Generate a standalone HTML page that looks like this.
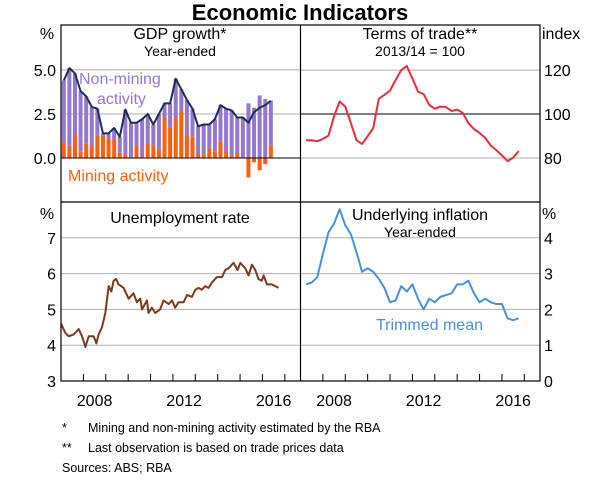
<!DOCTYPE html>
<html><head><meta charset="utf-8"><style>
body{margin:0;background:#fff;}
svg{display:block;font-family:"Liberation Sans",Arial,sans-serif;}
</style></head><body>
<svg id="c" width="600" height="482" viewBox="0 0 600 482">
<text x="300" y="20" text-anchor="middle" font-size="22" font-weight="bold">Economic Indicators</text>
<g id="g"></g>
<text x="62" y="432" font-size="12.5">*</text>
<text x="88" y="432" font-size="12.5">Mining and non-mining activity estimated by the RBA</text>
<text x="62" y="452" font-size="12.5">**</text>
<text x="88" y="452" font-size="12.5">Last observation is based on trade prices data</text>
<text x="62" y="472" font-size="12.5">Sources:   ABS; RBA</text>
</svg>
<script>
// GDP (quarterly, from 2007Q1)
const gdpTotal=[4.4,5.1,4.8,3.8,3.5,2.9,2.8,1.4,1.4,1.7,1.2,2.75,2.0,2.0,2.2,2.5,1.9,2.5,3.1,3.1,4.5,3.9,3.3,2.8,1.8,1.9,1.9,2.2,3.0,2.8,2.7,2.3,2.3,2.0,2.6,2.85,3.0,3.25];
const gdpMining=[0.9,0.7,1.3,0.35,0.8,0.65,1.25,1.3,1.1,1.05,0.3,0.2,0.05,0.7,0.05,0.85,0.7,0.45,2.3,1.75,2.3,2.7,1.25,1.2,0.25,0.2,0.6,0.35,0.95,0.4,0.15,0.25,0.05,-1.1,-0.25,-0.7,-0.35,0.7];
// Terms of trade (quarterly, from 2007.25)
const tot=[88.1,88.1,87.6,88.7,90.2,99,105.7,103.4,95.9,88.1,86.4,89.9,93.7,107,108.7,110.7,115.5,120,121.8,116.2,110.2,109.1,104.2,102.4,103.4,103.2,101.4,102,100.5,95.9,93.2,91.4,89.2,85.7,83.6,81.2,78.6,80.2,83.2];
// Trimmed mean inflation (quarterly, from 2007.25)
const infl=[2.7,2.75,2.9,3.55,4.15,4.4,4.8,4.35,4.1,3.6,3.05,3.15,3.05,2.85,2.6,2.2,2.25,2.65,2.5,2.7,2.3,2.0,2.3,2.2,2.35,2.4,2.45,2.7,2.7,2.8,2.45,2.2,2.3,2.2,2.15,2.15,1.75,1.7,1.75];
// Unemployment rate
const unDates=[2007,2007.19,2007.34,2007.57,2007.79,2007.94,2008.09,2008.24,2008.46,2008.58,2008.68,2008.83,2008.98,2009.13,2009.25,2009.35,2009.46,2009.57,2009.8,2010.02,2010.24,2010.39,2010.54,2010.62,2010.84,2010.91,2011.06,2011.21,2011.43,2011.58,2011.81,2011.96,2012.1,2012.25,2012.48,2012.63,2012.85,2013,2013.15,2013.29,2013.44,2013.59,2013.74,2013.96,2014.19,2014.34,2014.49,2014.71,2014.89,2015.01,2015.23,2015.38,2015.53,2015.68,2015.82,2015.97,2016.05,2016.2,2016.42,2016.57,2016.72];
const unRate=[4.6,4.35,4.25,4.3,4.45,4.25,3.95,4.25,4.25,4.05,4.3,4.5,4.9,5.65,5.5,5.8,5.85,5.7,5.6,5.3,5.45,5.2,5.3,5.0,5.25,4.9,5.05,4.9,5.0,5.25,5.15,5.25,5.05,5.2,5.2,5.4,5.35,5.55,5.6,5.55,5.65,5.6,5.75,5.9,5.9,6.1,6.15,6.3,6.1,6.3,6.15,5.95,6.25,6.1,5.85,5.8,5.95,5.7,5.7,5.65,5.6];
const xTickYears=[2007,2008,2009,2010,2011,2012,2013,2014,2015,2016,2017];
const xLabels=["2008","2012","2016"];
const gdpTicks=["5.0","2.5","0.0"];
const totTicks=["120","100","80"];
const unTicks=["7","6","5","4","3"];
const infTicks=["4","3","2","1","0"];

const NS="http://www.w3.org/2000/svg",G=document.getElementById('g');
function el(t,a,txt){const e=document.createElementNS(NS,t);for(const k in a)e.setAttribute(k,a[k]);if(txt!==undefined)e.textContent=txt;G.appendChild(e);return e;}
const L=61,M=300.5,R=540,T=25,H=202,B=381;
const xl=t=>L+(t-2007)*(M-L)/10.7, xr=t=>M+(t-2007)*(R-M)/10.7;
const yGdp=v=>T+(7.55-v)*(H-T)/10.05, yTot=v=>T+(140.5-v)*(H-T)/80.5;
const yUn=v=>H+(8-v)*(B-H)/5, yInf=v=>H+(5-v)*(B-H)/5;
function hline(x1,x2,y,c,n){const e=el('line',{x1,x2,y1:y,y2:y,stroke:c,'stroke-width':1});}
// grids
[5,2.5].forEach(v=>hline(L,M,yGdp(v),'#b0b0b0','gdp-gridline'));
[120,80].forEach(v=>hline(M,R,yTot(v),'#b0b0b0','tot-gridline'));
[7,6,5,4].forEach(v=>{hline(L,M,yUn(v),'#b0b0b0','unemployment-gridline');hline(M,R,yUn(v),'#b0b0b0','inflation-gridline');});
// GDP bars
const bw=4;
gdpTotal.forEach((tv,i)=>{const t=2007.125+i*0.25,x=xl(t),m=gdpMining[i],nm=tv-m;
 let p0=m>0?m:0,p1=m>0?tv:nm;
 const b=el('rect',{x:x-bw/2,width:bw,y:yGdp(Math.max(p0,p1)),height:Math.abs(yGdp(p0)-yGdp(p1)),fill:'#9478d0'});
 
 const o=el('rect',{x:x-bw/2,width:bw,y:yGdp(Math.max(m,0)),height:Math.abs(yGdp(m)-yGdp(0)),fill:'#ff5f0f'});
 });
hline(L,M,yGdp(0),'#000','gdp-zero-line');
hline(M,R,yTot(100),'#000','tot-100-line');
function line(xs,ys,c,n){const e=el('polyline',{points:xs.map((x,i)=>x+','+ys[i]).join(' '),fill:'none',stroke:c,'stroke-width':2,'stroke-linejoin':'round'});}
line(gdpTotal.map((v,i)=>xl(2007.125+i*0.25)),gdpTotal.map(yGdp),'#1b2f55','gdp-total-line');
line(tot.map((v,i)=>xr(2007.25+i*0.25)),tot.map(yTot),'#ee2a3c','terms-of-trade-line');
line(infl.map((v,i)=>xr(2007.25+i*0.25)),infl.map(yInf),'#4a90e0','trimmed-mean-line');
line(unDates.map(xl),unRate.map(yUn),'#7a3b1e','unemployment-line');
// ticks
xTickYears.forEach(t=>{[xl(t),xr(t)].forEach(x=>{if(x>L&&x<R&&Math.abs(x-M)>1){const e=el('line',{x1:x,x2:x,y1:B,y2:B-7,stroke:'#000'});}});});
// frame
const f=el('rect',{x:L,y:T,width:R-L,height:B-T,fill:'none',stroke:'#000','stroke-width':1.2});
const v=el('line',{x1:M,x2:M,y1:T,y2:B,stroke:'#000','stroke-width':1.2});
const h=el('line',{x1:L,x2:R,y1:H,y2:H,stroke:'#000','stroke-width':1.2});
function txt(x,y,s,o,n){const a=Object.assign({x,y,'font-size':16},o||{});const e=el('text',a,s);}
[5,2.5,0].forEach((vv,i)=>txt(56,yGdp(vv)+6,gdpTicks[i],{'text-anchor':'end'},'gdp-y-tick-label'));
[120,100,80].forEach((vv,i)=>txt(544,yTot(vv)+6,totTicks[i],{},'tot-y-tick-label'));
[7,6,5,4,3].forEach((vv,i)=>txt(56,yUn(vv)+6,unTicks[i],{'text-anchor':'end'},'unemployment-y-tick-label'));
[4,3,2,1,0].forEach((vv,i)=>txt(544,yInf(vv)+6,infTicks[i],{},'inflation-y-tick-label'));
[2008,2012,2016].forEach((t,i)=>{txt(xl(t+0.5),406,xLabels[i],{'text-anchor':'middle'},'x-tick-label-left');txt(xr(t+0.5),406,xLabels[i],{'text-anchor':'middle'},'x-tick-label-right');});
txt(47,39,'%',{'text-anchor':'middle'},'gdp-y-unit');
txt(542,39,'index',{},'tot-y-unit');
txt(47,219,'%',{'text-anchor':'middle'},'unemployment-y-unit');
txt(542,219,'%',{},'inflation-y-unit');
txt(180,39,'GDP growth*',{'text-anchor':'middle'},'gdp-panel-title');
txt(180,56,'Year-ended',{'text-anchor':'middle','font-size':14},'gdp-panel-subtitle');
txt(420,39,'Terms of trade**',{'text-anchor':'middle'},'tot-panel-title');
txt(420,56,'2013/14 = 100',{'text-anchor':'middle','font-size':14},'tot-panel-subtitle');
txt(180,223,'Unemployment rate',{'text-anchor':'middle'},'unemployment-panel-title');
txt(420,220,'Underlying inflation',{'text-anchor':'middle'},'inflation-panel-title');
txt(420,237,'Year-ended',{'text-anchor':'middle','font-size':14},'inflation-panel-subtitle');
txt(79,84,'Non-mining',{fill:'#9478d0'},'non-mining-label');
txt(97,104,'activity',{fill:'#9478d0'},'non-mining-label-2');
txt(68,181,'Mining activity',{fill:'#ff5f0f'},'mining-label');
txt(376,330,'Trimmed mean',{fill:'#4a90e0'},'trimmed-mean-label');
</script>
</body></html>
